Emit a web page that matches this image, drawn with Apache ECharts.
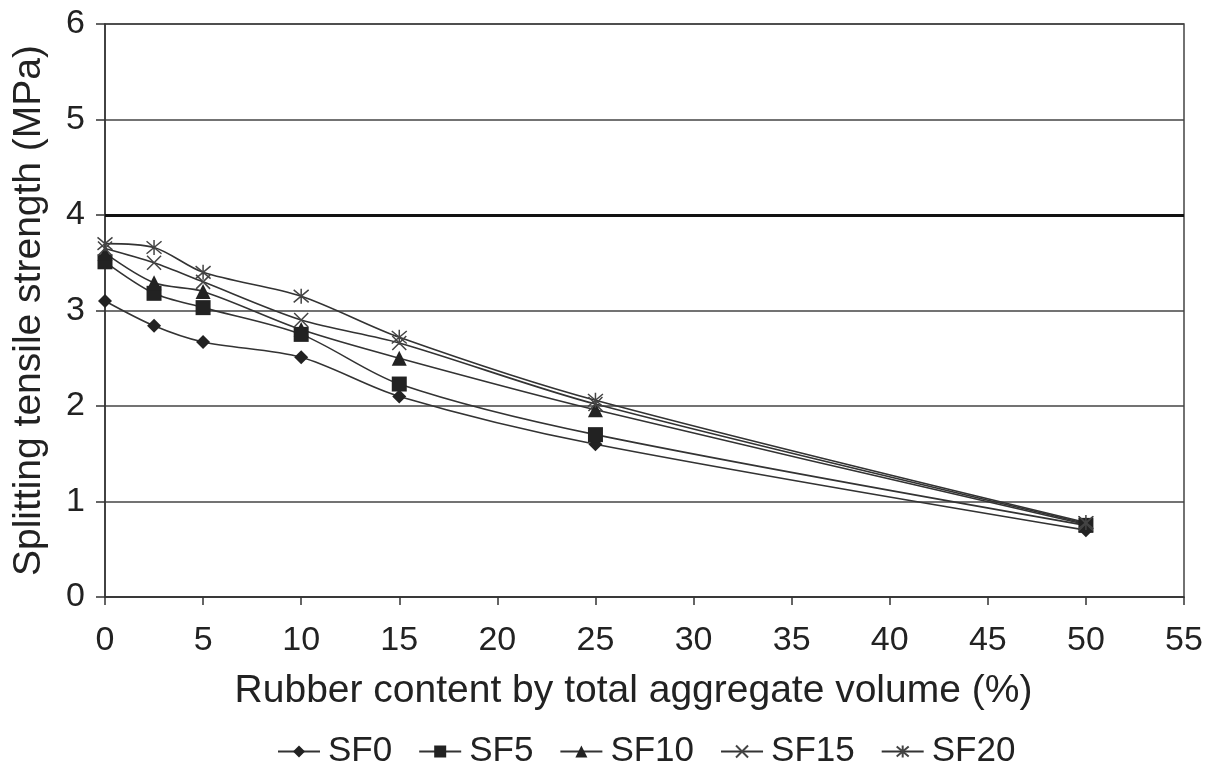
<!DOCTYPE html>
<html><head><meta charset="utf-8">
<script src="https://cdn.jsdelivr.net/npm/echarts@6/dist/echarts.min.js"></script>
<style>html,body{margin:0;padding:0;background:#fff}#c{width:1219px;height:774px}</style>
</head><body><div id="c"></div>
<script>
const rubberContent = [0, 2.5, 5, 10, 15, 25, 50];
const SF0  = [3.10, 2.84, 2.67, 2.51, 2.10, 1.60, 0.70];
const SF5  = [3.51, 3.18, 3.03, 2.75, 2.23, 1.70, 0.75];
const SF10 = [3.60, 3.29, 3.20, 2.80, 2.50, 1.96, 0.76];
const SF15 = [3.65, 3.50, 3.30, 2.90, 2.66, 2.02, 0.77];
const SF20 = [3.70, 3.66, 3.40, 3.15, 2.72, 2.06, 0.78];
const seriesNames = ['SF0', 'SF5', 'SF10', 'SF15', 'SF20'];
const seriesValues = [SF0, SF5, SF10, SF15, SF20];

const ink = '#222';
const font = 'Liberation Sans, Arial, sans-serif';
const symbols = [
  {symbol: 'diamond', size: 14, style: {color: ink}},
  {symbol: 'rect', size: 15, style: {color: ink}},
  {symbol: 'triangle', size: 15, style: {color: ink}},
  {symbol: 'path://M0,0L10,10M10,0L0,10', size: 14, style: {color: 'none', borderColor: '#444', borderWidth: 1.5}},
  {symbol: 'path://M0,0L10,10M10,0L0,10M5,-1L5,11', size: 15, style: {color: 'none', borderColor: '#444', borderWidth: 1.5}}
];

const series = seriesNames.map((n, i) => ({
  name: n, type: 'line', smooth: 0.3,
  data: rubberContent.map((x, j) => [x, seriesValues[i][j]]),
  symbol: symbols[i].symbol, symbolSize: symbols[i].size,
  itemStyle: symbols[i].style,
  lineStyle: {color: '#333', width: 1.6},
  z: 3
}));
series.push({
  name: 'ref4', type: 'line', data: [], silent: true,
  markLine: {silent: true, symbol: 'none', label: {show: false},
    lineStyle: {color: '#111', width: 3, type: 'solid'},
    data: [{yAxis: 4}]}
});

const chart = echarts.init(document.getElementById('c'), null, {renderer: 'canvas'});
chart.setOption({
  animation: false,
  backgroundColor: '#fff',
  grid: {left: 105, top: 24, right: 35, bottom: 177, show: true, borderColor: '#444', borderWidth: 1.5},
  xAxis: {
    type: 'value', min: 0, max: 55, interval: 5,
    name: 'Rubber content by total aggregate volume (%)',
    nameLocation: 'middle', nameGap: 75,
    nameTextStyle: {fontFamily: font, fontSize: 39, color: ink, padding: [0, 22, 0, 0]},
    axisLine: {show: true, onZero: false, lineStyle: {color: '#333', width: 1.5}},
    axisTick: {show: true, length: 8, lineStyle: {color: '#333', width: 1.5}},
    axisLabel: {fontFamily: font, fontSize: 34, color: ink, margin: 27},
    splitLine: {show: false}
  },
  yAxis: {
    type: 'value', min: 0, max: 6, interval: 1,
    name: 'Splitting tensile strength (MPa)',
    nameLocation: 'middle', nameGap: 56, nameRotate: 90,
    nameTextStyle: {fontFamily: font, fontSize: 39, color: ink},
    axisLine: {show: true, lineStyle: {color: '#333', width: 1.5}},
    axisTick: {show: true, length: 9, lineStyle: {color: '#333', width: 1.5}},
    axisLabel: {fontFamily: font, fontSize: 34, color: ink, margin: 20},
    splitLine: {show: true, lineStyle: {color: '#444', width: 1.5}}
  },
  legend: {
    bottom: 0, left: 272,
    data: seriesNames,
    itemWidth: 42, itemHeight: 15, itemGap: 26,
    textStyle: {fontFamily: font, fontSize: 35, color: ink, padding: [0, 0, 0, 3]}
  },
  series: series
});
</script></body></html>
